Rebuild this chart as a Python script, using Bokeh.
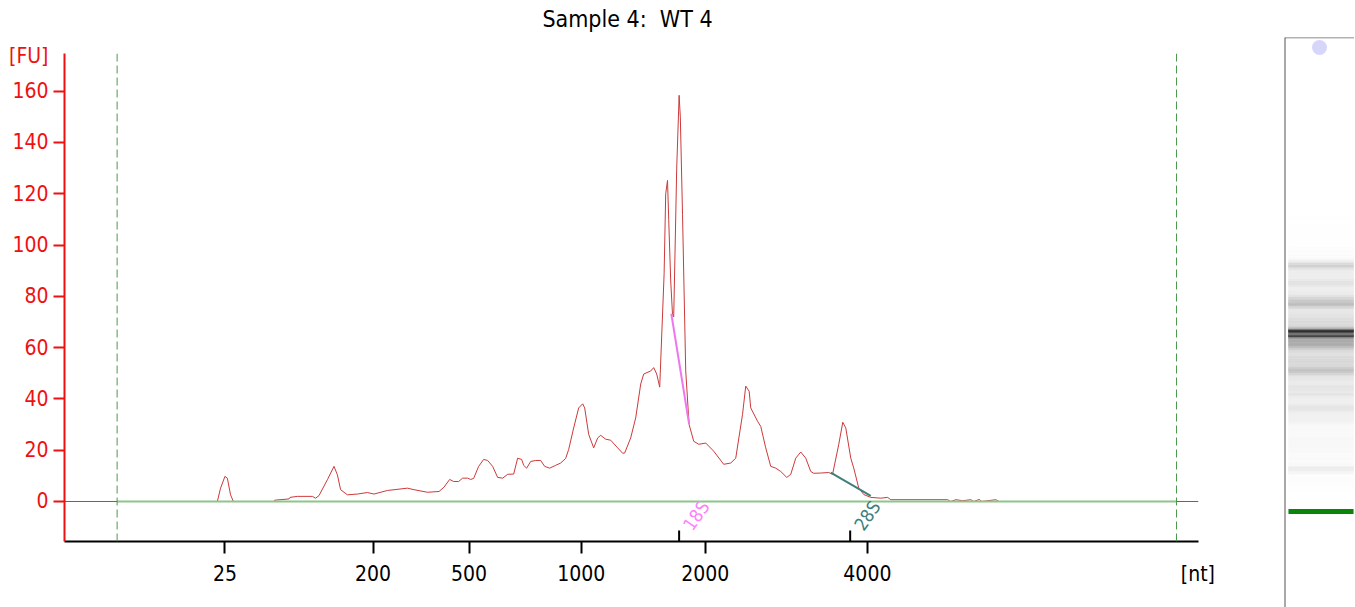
import numpy as np
from bokeh.embed import file_html
from bokeh.layouts import column, row
from bokeh.models import (ColumnDataSource, CustomJSTickFormatter, FixedTicker, LinearAxis,
                          LinearColorMapper, Label, Range1d, Span)
from bokeh.plotting import figure
from bokeh.resources import INLINE

FONT = "DejaVu Sans Condensed"

# electropherogram: migration time (s) and fluorescence (FU)
TIME = [16.8, 24.44, 24.6, 24.82, 24.94, 25.1, 25.24, 27.27, 27.3, 28.02,
        28.07, 28.44, 29.19, 29.35, 29.52, 29.94, 30.27, 30.44, 30.6, 30.94,
        31.44, 31.94, 32.27, 32.94, 33.94, 34.27, 34.94, 35.52, 35.77, 36.05,
        36.25, 36.5, 36.7, 36.95, 37.1, 37.25, 37.5, 37.75, 37.95, 38.2,
        38.45, 38.7, 38.95, 39.25, 39.45, 39.65, 39.75, 39.9, 40.1, 40.35,
        40.6, 40.8, 41.05, 41.35, 41.6, 41.85, 42.0, 42.25, 42.5, 42.7,
        42.8, 43.0, 43.25, 43.45, 43.6, 43.85, 44.1, 44.45, 44.7, 44.8,
        45.1, 45.35, 45.6, 45.75, 46.1, 46.25, 46.4, 46.55, 46.77, 46.85,
        46.94, 47.0, 47.1, 47.19, 47.25, 47.4, 47.52, 47.58, 47.69, 47.85,
        48.02, 48.25, 48.5, 48.85, 49.25, 49.75, 50.1, 50.35, 50.69, 50.85,
        51.02, 51.1, 51.44, 51.6, 51.85, 52.1, 52.35, 52.6, 52.9, 53.1,
        53.35, 53.6, 53.85, 54.1, 54.25, 54.6, 55.0, 55.19, 55.5, 55.7,
        55.85, 56.1, 56.25, 56.5, 56.75, 57.1, 57.6, 57.94, 58.1, 60.94,
        61.1, 61.35, 61.69, 62.1, 62.25, 62.52, 62.65, 63.35, 63.5, 73.48]
FU = [0, 0, 5.2, 9.8, 9.1, 2.6, 0, 0, 0.5, 1.0,
      1.6, 2.0, 2.0, 1.3, 2.3, 8.5, 13.7, 10.4, 4.6, 2.6,
      2.9, 3.5, 2.9, 4.3, 5.2, 4.6, 3.6, 3.9, 5.6, 8.6,
      7.8, 7.8, 9.1, 9.1, 8.6, 9.0, 13.7, 16.4, 16.0, 13.7,
      9.4, 9.1, 10.6, 10.7, 16.9, 16.4, 14.1, 13.0, 15.6, 16.0,
      16.0, 13.7, 13.0, 14.1, 15.0, 16.8, 20.3, 28.7, 36.5, 38.1,
      36.5, 26.2, 20.9, 24.8, 25.8, 24.3, 23.9, 20.9, 18.8, 18.9,
      24.8, 32.6, 45.8, 49.7, 50.9, 52.2, 49.7, 44.6, 88.8, 120,
      125.2, 110, 86, 73, 72, 130, 158.4, 150, 112, 50.9,
      30, 23.5, 22.3, 22.8, 19.6, 14.5, 15, 16.9, 34, 45,
      43, 36.5, 31.3, 29.3, 20.9, 13.7, 13.0, 11.7, 9.4, 10.6,
      16.9, 19.3, 16.9, 11.7, 11.0, 11.1, 11.3, 10.6, 22.3, 30.9,
      28.7, 16.9, 13.0, 5.2, 2.7, 1.6, 1.3, 1.6, 0.7, 0.7,
      0, 0.7, 0.3, 0.7, 0, 0.8, 0, 0.7, 0, 0]

# ladder: size labels (nt) at their migration times
LADDER_TIME = [24.82, 32.22, 37.02, 42.63, 48.83, 56.93]
LADDER_NT = ["25", "200", "500", "1000", "2000", "4000"]
FU_TICKS = [0, 20, 40, 60, 80, 100, 120, 140, 160]

LOWER_MARKER_TIME = 24.82
ALIGN_TIMES = [19.43, 72.38]

# ribosomal peaks and their area lines
RRNA_NAME = ["18S", "28S"]
RRNA_TIME = [47.52, 56.07]
RRNA_T0 = [47.13, 55.1]
RRNA_V0 = [73.2, 11.3]
RRNA_T1 = [48.02, 57.1]
RRNA_V1 = [30.2, 2.2]
RRNA_LINE_COLOR = ["#ee77ee", "#3f7f7b"]
RRNA_TEXT_COLOR = ["#ff80ff", "#3f7f7b"]

TITLE = "Sample 4:\u00a0 WT 4"
RED = "#ee1111"

X0, X1 = 16.8, 73.48
Y0, Y1 = -15.6, 174.7
FU_UNIT_AT = 173.7
NT_UNIT_AT = 73.45

# title strip above the electropherogram
tf = figure(width=1284, height=36, x_range=Range1d(0, 1), y_range=Range1d(0, 1),
            output_backend="svg", toolbar_location=None, x_axis_type=None, y_axis_type=None,
            min_border_left=64, min_border_right=86, min_border_top=0, min_border_bottom=0)
tf.outline_line_color = None
tf.grid.visible = False
tf.add_layout(Label(x=0.4965, y=0.5, text=TITLE, text_align="center", text_baseline="middle",
                    text_font=FONT, text_font_size="23px", text_color="black"))

p = figure(width=1284, height=571, x_range=Range1d(X0, X1), y_range=Range1d(Y0, Y1),
           output_backend="svg", toolbar_location=None,
           min_border_left=64, min_border_right=86, min_border_top=17, min_border_bottom=66)
p.outline_line_color = None
p.grid.visible = False

BLANK = CustomJSTickFormatter(code='return "";')

# inner x axis: tick marks only
p.xaxis.ticker = FixedTicker(ticks=LADDER_TIME)
p.xaxis.formatter = BLANK
p.xaxis.axis_line_color = "black"
p.xaxis.axis_line_width = 2
p.xaxis.major_tick_line_color = "black"
p.xaxis.major_tick_line_width = 2
p.xaxis.major_tick_out = 12
p.xaxis.major_tick_in = 0
p.xaxis.minor_tick_line_color = None
p.xaxis.major_label_standoff = 0

# outer x axis: ladder sizes plus the unit
xlab = LinearAxis(
    ticker=FixedTicker(ticks=LADDER_TIME + [NT_UNIT_AT]),
    formatter=CustomJSTickFormatter(args=dict(ladder=LADDER_TIME, names=LADDER_NT), code="""
        for (let i = 0; i < ladder.length; i++) {
            if (Math.abs(tick - ladder[i]) < 1e-6) return names[i];
        }
        return "[nt]";
    """),
    axis_line_color=None, major_tick_line_color=None, minor_tick_line_color=None,
    major_tick_out=0, major_tick_in=0, major_label_standoff=8,
    major_label_text_font=FONT, major_label_text_font_size="21px",
    major_label_text_color="black")
p.add_layout(xlab, "below")

# inner y axis: red tick marks only
p.yaxis.ticker = FixedTicker(ticks=FU_TICKS)
p.yaxis.formatter = BLANK
p.yaxis.axis_line_color = RED
p.yaxis.axis_line_width = 2
p.yaxis.major_tick_line_color = RED
p.yaxis.major_tick_line_width = 2
p.yaxis.major_tick_out = 11
p.yaxis.major_tick_in = 0
p.yaxis.minor_tick_line_color = None
p.yaxis.major_label_standoff = 0

# outer y axis: values plus the unit
ylab = LinearAxis(
    ticker=FixedTicker(ticks=FU_TICKS + [FU_UNIT_AT]),
    formatter=CustomJSTickFormatter(args=dict(unit_at=FU_UNIT_AT), code="""
        if (Math.abs(tick - unit_at) < 1e-6) return "[FU]";
        return tick.toFixed(0);
    """),
    axis_line_color=None, major_tick_line_color=None, minor_tick_line_color=None,
    major_tick_out=0, major_tick_in=0, major_label_standoff=5,
    major_label_text_font=FONT, major_label_text_font_size="21px",
    major_label_text_color=RED)
p.add_layout(ylab, "left")

for t in ALIGN_TIMES:
    p.add_layout(Span(location=t, dimension="height", line_color="#4a9a4a",
                      line_dash="8 4", line_width=1))

p.line(TIME, FU, line_color="#cc3a3a", line_width=1)
p.line(ALIGN_TIMES, [0, 0], line_color="#8cc68c", line_width=2)

rrna = ColumnDataSource(dict(t0=RRNA_T0, v0=RRNA_V0, t1=RRNA_T1, v1=RRNA_V1,
                             t=RRNA_TIME, color=RRNA_LINE_COLOR,
                             yb=[Y0, Y0], yt=[Y0 + 4.3, Y0 + 4.3]))
p.segment(x0="t0", y0="v0", x1="t1", y1="v1", line_color="color", line_width=2, source=rrna)
p.segment(x0="t", y0="yb", x1="t", y1="yt", line_color="black", line_width=2, source=rrna)

for name, t, col in zip(RRNA_NAME, RRNA_TIME, RRNA_TEXT_COLOR):
    p.add_layout(Label(x=t + 0.85, y=-5.5, text=name, angle=55, angle_units="deg",
                       text_align="center", text_baseline="middle", text_color=col,
                       text_font=FONT, text_font_size="18px"))

# gel lane rendered from the same trace
GT0, GT1 = 12.74, 84.44
g = figure(width=70, height=607, x_range=Range1d(0, 1), y_range=Range1d(GT0, GT1),
           output_backend="svg", toolbar_location=None, x_axis_type=None, y_axis_type=None,
           min_border_left=0, min_border_right=0, min_border_top=37, min_border_bottom=0)
g.outline_line_color = None
g.grid.visible = False

GRAYS = ["#%02x%02x%02x" % (v, v, v) for v in np.linspace(255, 52, 256).round().astype(int)]
mapper = LinearColorMapper(palette=GRAYS, low=0, high=124, high_color="#333333")

t_arr = np.array(TIME)
fu_arr = np.array(FU)
gel = ColumnDataSource(dict(bottom=t_arr[:-1], top=t_arr[1:], fu=(fu_arr[:-1] + fu_arr[1:]) / 2))
g.quad(left=0.057, right=0.986, bottom="bottom", top="top",
       fill_color={"field": "fu", "transform": mapper},
       line_color={"field": "fu", "transform": mapper}, line_width=0.5, source=gel)
g.quad(left=0.057, right=0.986, bottom=LOWER_MARKER_TIME - 0.32, top=LOWER_MARKER_TIME + 0.32,
       fill_color="#0a840a", line_color=None)
g.scatter(x=[0.5], y=[83.18], size=15, marker="circle", fill_color="#d6d6fb", line_color=None)
g.add_layout(Span(location=0, dimension="height", line_color="#555555", line_width=2))
g.add_layout(Span(location=GT1, dimension="width", line_color="#666666", line_width=1.5))

layout = row(column(tf, p), column(g))
open("out.html", "w").write(file_html(layout, INLINE))
